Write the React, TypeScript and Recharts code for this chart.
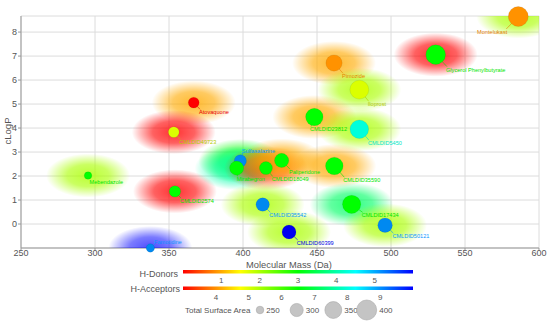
import React from 'react';
import {
  ScatterChart,
  Scatter,
  XAxis,
  YAxis,
  ZAxis,
  CartesianGrid,
  ReferenceArea,
} from 'recharts';

// compounds and their properties
const compounds = [
  'Montelukast', 'Glycerol Phenylbutyrate', 'Pimozide', 'Iloprost', 'CMLDID23812',
  'CMLDID5450', 'Atovaquone', 'CMLDID49723', 'Mebendazole', 'CMLDID2574',
  'Famotidine', 'Sulfasalazine', 'Mirabegron', 'CMLDID18049', 'Paliperidone',
  'CMLDID35590', 'CMLDID35542', 'CMLDID17434', 'CMLDID50121', 'CMLDID60399',
];
const molecularMass = [586, 530.2, 461.5, 478.6, 448.2, 478.6, 366.7, 353.2, 295.3, 354, 337.4, 398.2, 395.7, 415.5, 426.1, 461.7, 413.3, 473.4, 496, 431.1];
const cLogP = [8.65, 7.06, 6.71, 5.6, 4.46, 3.95, 5.06, 3.83, 2.02, 1.36, -1.0, 2.63, 2.33, 2.33, 2.65, 2.42, 0.81, 0.82, -0.05, -0.33];
const hDonors = [2, 0, 1, 2, 1, 2, 1, 0, 2, 0, 6, 3, 4, 0.4, 1, 1, 2, 3.6, 2, 2];
const hAcceptors = [4, 6.5, 4, 5, 6.5, 8, 3, 5, 6.5, 6.5, 9, 9, 6.5, 6.5, 6.5, 6.5, 9, 6.5, 9, 10];
const surfaceArea = [405, 400, 337, 383, 357, 377, 263, 263, 232, 269, 239, 278, 303, 288, 306, 360, 295, 373, 311, 303];

const massTicks = [250, 300, 350, 400, 450, 500, 550, 600];
const logPTicks = [0, 1, 2, 3, 4, 5, 6, 7, 8];
const donorTicks = [1, 2, 3, 4, 5];
const acceptorTicks = [4, 5, 6, 7, 8, 9];
const areaTicks = [250, 300, 350, 400];

// where each label sits relative to its bubble: [dx, dy, anchor]
const labelOffsets: Record<string, [number, number, 'start' | 'end']> = {
  'Montelukast': [-11, 15.5, 'end'],
  'Glycerol Phenylbutyrate': [10.3, 15, 'start'],
  'Pimozide': [8, 13.3, 'start'],
  'Iloprost': [8.4, 14.7, 'start'],
  'CMLDID23812': [-4.3, 12.5, 'start'],
  'CMLDID5450': [8.7, 14, 'start'],
  'Atovaquone': [5.3, 9.7, 'start'],
  'CMLDID49723': [5.6, 10, 'start'],
  'Mebendazole': [1.5, 6.4, 'start'],
  'CMLDID2574': [5, 9.7, 'start'],
  'Famotidine': [3.7, -6, 'start'],
  'Sulfasalazine': [1.4, -10, 'start'],
  'Mirabegron': [0, 11.2, 'start'],
  'CMLDID18049': [5.7, 11.3, 'start'],
  'Paliperidone': [7.3, 11.7, 'start'],
  'CMLDID35590': [9, 14.3, 'start'],
  'CMLDID35542': [6.6, 10.7, 'start'],
  'CMLDID17434': [10, 11, 'start'],
  'CMLDID50121': [7.3, 11, 'start'],
  'CMLDID60399': [7.7, 11, 'start'],
};

const data = compounds.map((name, i) => ({
  name,
  mass: molecularMass[i],
  logP: cLogP[i],
  donors: hDonors[i],
  acceptors: hAcceptors[i],
  tsa: surfaceArea[i],
}));

const FONT = '"Liberation Sans", Arial, sans-serif';
const X_DOMAIN: [number, number] = [250, 600];
const Y_DOMAIN: [number, number] = [-1, 8.67];
const Z_DOMAIN: [number, number] = [250, 400];
const Z_RANGE: [number, number] = [45, 314];

const donorHue = (v: number) => (240 * v) / 6;
const acceptorHue = (v: number) => (240 * (v - 3)) / 7;

const Halo = (props: any) => {
  const { cx, cy, payload } = props;
  if (cx == null || cy == null) return null;
  const id = 'halo-' + payload.name.replace(/\s+/g, '_');
  const hue = donorHue(payload.donors);
  const c = `hsl(${hue}, 100%, 50%)`;
  const peak = hue > 200 ? 0.7 : 0.8;
  return (
    <g>
      <defs>
        <radialGradient id={id}>
          <stop offset="0%" stopColor={c} stopOpacity={peak} />
          <stop offset="50%" stopColor={c} stopOpacity={peak - 0.18} />
          <stop offset="100%" stopColor={c} stopOpacity={0} />
        </radialGradient>
      </defs>
      <ellipse cx={cx} cy={cy} rx={42} ry={22} fill={`url(#${id})`} />
    </g>
  );
};

const Bubble = (props: any) => {
  const { cx, cy, width, payload } = props;
  if (cx == null || cy == null) return null;
  const r = width / 2;
  const h = acceptorHue(payload.acceptors);
  const fill = `hsl(${h}, 100%, ${h > 200 ? 47 : 50}%)`;
  const light = h > 40 && h < 110 ? 40 : h > 190 && h < 225 ? 52 : 45;
  const textColor = `hsl(${h}, 100%, ${light}%)`;
  const [dx, dy, anchor] = labelOffsets[payload.name] || [6, 10, 'start'];
  const lx = cx + dx;
  const ly = cy + dy;
  const tx = lx + (anchor === 'end' ? -1 : 1);
  const ty = dy < 0 ? ly + 2 : ly - 3;
  const ang = Math.atan2(ty - cy, tx - cx);
  const dist = Math.hypot(tx - cx, ty - cy);
  return (
    <g>
      {dist > r + 1 && (
        <line
          x1={cx + r * Math.cos(ang)}
          y1={cy + r * Math.sin(ang)}
          x2={tx}
          y2={ty}
          stroke={textColor}
          strokeWidth={0.6}
        />
      )}
      <circle cx={cx} cy={cy} r={r} fill={fill} stroke="rgba(0,0,0,0.12)" strokeWidth={0.6} />
      <text
        x={lx}
        y={ly}
        dy="0.35em"
        textAnchor={anchor}
        fontSize={5.6}
        fill={textColor}
        fontFamily={FONT}
      >
        {payload.name}
      </text>
    </g>
  );
};

// legend geometry
const BAR_X = 183;
const BAR_W = 230;
const donorX = (v: number) => BAR_X + (v * BAR_W) / 6;
const acceptorX = (v: number) => BAR_X + ((v - 3) * BAR_W) / 7;
const areaRadius = (v: number) => {
  const a = Z_RANGE[0] + ((v - Z_DOMAIN[0]) * (Z_RANGE[1] - Z_RANGE[0])) / (Z_DOMAIN[1] - Z_DOMAIN[0]);
  return Math.sqrt(a / Math.PI);
};
const areaLegendX = [260, 296.7, 333.3, 366.7];

const Overlay = () => (
  <svg
    width={550}
    height={325}
    style={{ position: 'absolute', left: 0, top: 0, pointerEvents: 'none' }}
    fontFamily={FONT}
  >
    <defs>
      <linearGradient id="donorGrad" x1="0" x2="1" y1="0" y2="0">
        <stop offset="0%" stopColor="#ff0000" />
        <stop offset="25%" stopColor="#ffff00" />
        <stop offset="50%" stopColor="#00ff00" />
        <stop offset="75%" stopColor="#00ffff" />
        <stop offset="100%" stopColor="#0000ff" />
      </linearGradient>
    </defs>
    <text x={8} y={131} transform="rotate(-90 8 131)" textAnchor="middle" dy="0.35em" fontSize={9.5} fill="#555">
      cLogP
    </text>
    <text x={289} y={264.5} textAnchor="middle" dy="0.35em" fontSize={9.3} fill="#555">
      Molecular Mass (Da)
    </text>

    <text x={178} y={274} textAnchor="end" dy="0.35em" fontSize={9} fill="#555">H-Donors</text>
    <rect x={BAR_X} y={270} width={BAR_W} height={3.5} fill="url(#donorGrad)" />
    {donorTicks.map((t) => (
      <text key={'d' + t} x={donorX(t)} y={280.5} textAnchor="middle" dy="0.35em" fontSize={8} fill="#555">{t}</text>
    ))}

    <text x={180} y={289} textAnchor="end" dy="0.35em" fontSize={9} fill="#555">H-Acceptors</text>
    <rect x={BAR_X} y={286.5} width={BAR_W} height={3.5} fill="url(#donorGrad)" />
    {acceptorTicks.map((t) => (
      <text key={'a' + t} x={acceptorX(t)} y={296.8} textAnchor="middle" dy="0.35em" fontSize={8} fill="#555">{t}</text>
    ))}

    <text x={185} y={310} dy="0.35em" fontSize={8} fill="#555">Total Surface Area</text>
    {areaTicks.map((t, i) => {
      const r = areaRadius(t);
      return (
        <g key={'s' + t}>
          <circle cx={areaLegendX[i]} cy={310} r={r} fill="#c4c4c4" stroke="#aaa" strokeWidth={0.6} />
          <text x={areaLegendX[i] + r + 2.5} y={310} dy="0.35em" fontSize={8} fill="#555">{t}</text>
        </g>
      );
    })}
  </svg>
);

export default function App() {
  return (
    <div style={{ position: 'absolute', left: 0, top: 0, width: 550, height: 325, background: '#fff' }}>
      <ScatterChart width={550} height={325} margin={{ top: 16, right: 11, bottom: 47, left: 0 }}>
        <CartesianGrid stroke="#dcdcdc" />
        <XAxis
          type="number"
          dataKey="mass"
          domain={X_DOMAIN}
          ticks={massTicks}
          interval={0}
          height={30}
          stroke="#999"
          tickSize={2}
          tickMargin={0}
          tick={{ fontSize: 9, fill: '#555', fontFamily: FONT }}
        />
        <YAxis
          type="number"
          dataKey="logP"
          domain={Y_DOMAIN}
          ticks={logPTicks}
          interval={0}
          width={21}
          stroke="#999"
          tickSize={3}
          tickMargin={1}
          tick={{ fontSize: 9, fill: '#555', fontFamily: FONT }}
        />
        <XAxis xAxisId="halo" type="number" dataKey="mass" domain={X_DOMAIN} allowDataOverflow hide />
        <YAxis yAxisId="halo" type="number" dataKey="logP" domain={Y_DOMAIN} allowDataOverflow hide />
        <ZAxis type="number" dataKey="tsa" domain={Z_DOMAIN} range={Z_RANGE} />
        <ReferenceArea x1={600} x2={600} y1={-1} y2={8.67} fill="none" stroke="#999" ifOverflow="visible" />
        <ReferenceArea x1={250} x2={600} y1={8.67} y2={8.67} fill="none" stroke="#999" ifOverflow="visible" />
        <Scatter data={data} xAxisId="halo" yAxisId="halo" shape={<Halo />} isAnimationActive={false} />
        <Scatter data={data} shape={<Bubble />} isAnimationActive={false} />
      </ScatterChart>
      <Overlay />
    </div>
  );
}
